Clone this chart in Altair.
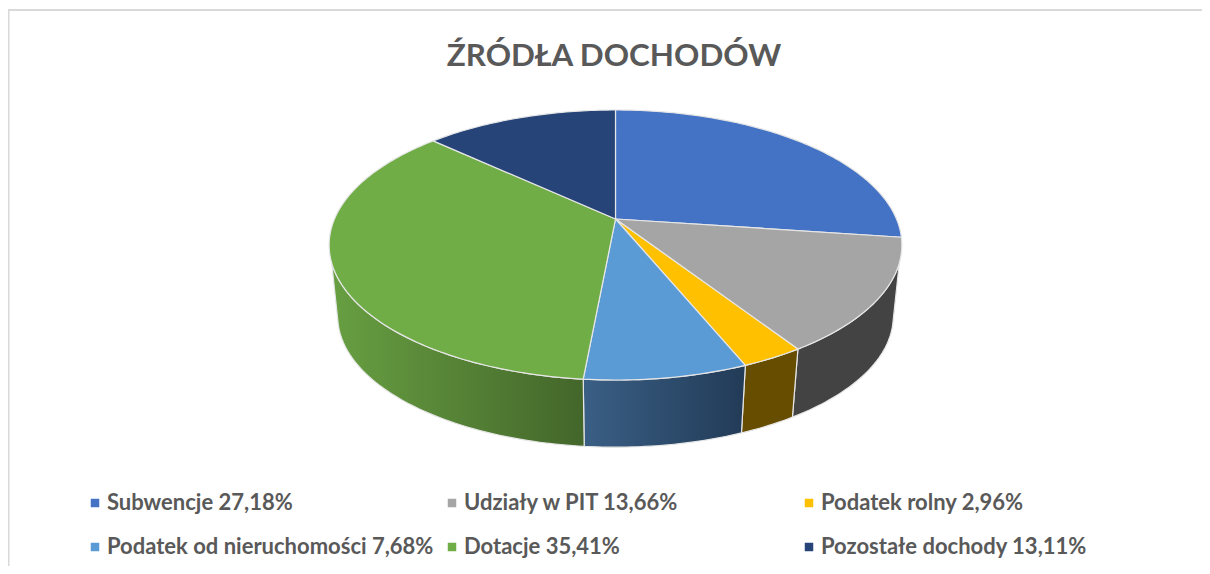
import math
import altair as alt
import pandas as pd

title = "ŹRÓDŁA DOCHODÓW"
names = ["Subwencje", "Udziały w PIT", "Podatek rolny",
         "Podatek od nieruchomości", "Dotacje", "Pozostałe dochody"]
values = [27.18, 13.66, 2.96, 7.68, 35.41, 13.11]
colors = ["#4472C4", "#A5A5A5", "#FFC000", "#5B9BD5", "#70AD47", "#264478"]
labels = [f"{n} {v:.2f}".replace(".", ",") + "%" for n, v in zip(names, values)]

# Tilted-disc geometry of the 3D pie (perspective projection of a circle)
W, H = 1194, 558
CX, CY, A, B, K = 615.5, 219.0, 281.0, 130.0, 0.1926
CY2, S = 291.0, 0.97
WALL_R, WALL_R_B = 108.5, 104.4   # where the side wall meets the rim (degrees from top)


def rim(deg, cy=CY, s=1.0):
    t = math.radians(deg)
    d = 1 + K * math.cos(t)
    return CX + s * A * math.sin(t) / d, cy - s * B * math.cos(t) / d


def sweep(a, b, step=1.0):
    n = max(2, int(abs(b - a) / step) + 1)
    return [a + (b - a) * i / (n - 1) for i in range(n)]


edges = [0.0]
for v in values:
    edges.append(edges[-1] + v * 3.6 * 100 / sum(values))

top_rows = []
for idx, lab in enumerate(labels):
    pts = [(CX, CY)] + [rim(d) for d in sweep(edges[idx], edges[idx + 1])] + [(CX, CY)]
    for i, (x, y) in enumerate(pts):
        top_rows.append({"name": lab, "i": i, "x": x, "y": y})
top_df = pd.DataFrame(top_rows)


def wall(idx):
    a = max(edges[idx], WALL_R)
    b = min(edges[idx + 1], 360 - WALL_R)
    a2 = a if a > WALL_R else WALL_R_B
    b2 = b if b < 360 - WALL_R else 360 - WALL_R_B
    pts = [rim(d) for d in sweep(a, b)] + [rim(d, CY2, S) for d in sweep(b2, a2)]
    pts.append(pts[0])
    return pd.DataFrame([{"i": i, "x": x, "y": y} for i, (x, y) in enumerate(pts)])


x_enc = alt.X("x:Q", axis=None, scale=alt.Scale(domain=[8, 8 + W], range=[0, W], nice=False, zero=False))
y_enc = alt.Y("y:Q", axis=None, scale=alt.Scale(domain=[8, 8 + H], range=[0, H], nice=False, zero=False))
order = alt.Order("i:Q")
EDGE = "#e6e6e6"


def grad(c1, c2):
    return alt.Gradient(gradient="linear", x1=0, x2=1, y1=0, y2=0,
                        stops=[alt.GradientStop(color=c1, offset=0), alt.GradientStop(color=c2, offset=1)])


wall_fills = {1: "#434343", 2: "#664D00", 3: grad("#3A5F85", "#223B57"), 4: grad("#689F42", "#43662A")}
walls = [
    alt.Chart(wall(i)).mark_line(fill=f, stroke=EDGE, strokeWidth=1.2, strokeJoin="round")
    .encode(x=x_enc, y=y_enc, order=order)
    for i, f in wall_fills.items()
]

top = alt.Chart(top_df).mark_line(stroke=EDGE, strokeWidth=1.2, strokeJoin="round").encode(
    x=x_enc, y=y_enc, order=order,
    fill=alt.Fill("name:N", sort=labels,
                  scale=alt.Scale(domain=labels, range=colors),
                  legend=alt.Legend(
                      title=None, orient="none", legendX=76, legendY=484, columns=3,
                      direction="horizontal",
                      gridAlign="all", columnPadding=7, rowPadding=22,
                      symbolType="square", symbolSize=72, symbolStrokeWidth=0, symbolOpacity=1,
                      labelFont="Lato", labelFontWeight="bold", labelFontSize=22,
                      labelColor="#595959", labelOffset=1, labelLimit=400)),
)

frame_top = alt.Chart(pd.DataFrame({"x": [8], "x2": [8 + W], "y": [10]})).mark_rule(
    color="#D9D9D9", strokeWidth=2).encode(x=x_enc, x2="x2:Q", y=y_enc)
frame_left = alt.Chart(pd.DataFrame({"x": [8.5], "y": [9], "y2": [8 + H]})).mark_rule(
    color="#D9D9D9", strokeWidth=2).encode(x=x_enc, y=y_enc, y2="y2:Q")

chart = alt.layer(frame_top, frame_left, *walls, top).properties(
    width=W, height=H,
    padding=0,
    autosize=alt.AutoSizeParams(type="none"),
    background="white",
    title=alt.TitleParams(title, font="Lato", fontWeight="bold", fontSize=31.4, color="#595959",
                          anchor="middle", dx=9, dy=64, offset=0),
).configure_view(stroke=None)

chart.save("out.html", embed_options={"renderer": "svg", "actions": False})
